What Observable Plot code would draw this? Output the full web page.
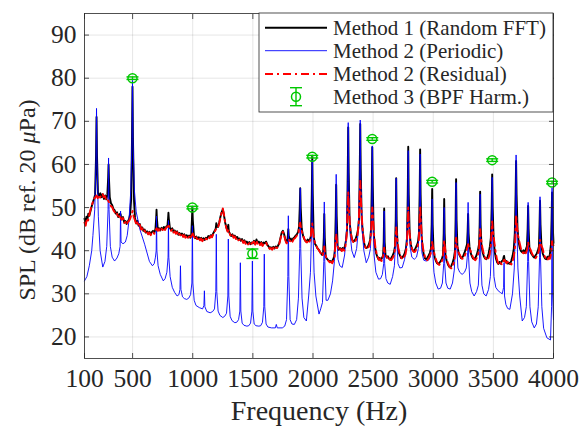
<!DOCTYPE html>
<html>
<head>
<meta charset="utf-8">
<script src="https://cdn.jsdelivr.net/npm/d3@7"></script>
<script src="https://cdn.jsdelivr.net/npm/@observablehq/plot@0.6"></script>
<style>
  html, body { margin: 0; padding: 0; background: #fff; }
  #chart { width: 580px; height: 428px; }
</style>
</head>
<body>
<div id="chart"></div>
<script>
// ---------- data ----------
const xTickValues = [100, 500, 1000, 1500, 2000, 2500, 3000, 3500, 4000];
const xTickLabels = ["100", "500", "1000", "1500", "2000", "2500", "3000", "3500", "4000"];
const yTickValues = [20, 30, 40, 50, 60, 70, 80, 90];
const yTickLabels = ["20", "30", "40", "50", "60", "70", "80", "90"];

const legendLabels = ["Method 1 (Random FFT)", "Method 2 (Periodic)", "Method 2 (Residual)", "Method 3 (BPF Harm.)"];

// Method 1 (Random FFT): [frequency Hz, SPL dB]
const method1 = [[100,47.4],[108,46.5],[116,47.9],[124,47.2],[132,48.6],[140,48.1],[150,49.2],[160,50.3],[170,51.2],[180,52.1],[188,53],[196,62],[200,71],[204,62],[212,53.4],[222,52.6],[232,53.3],[242,52.4],[252,53.1],[262,52],[272,52.8],[282,51.9],[290,53],[297,57],[300,60],[303,57],[310,52.4],[320,51],[330,50.6],[340,49.7],[350,49.4],[360,48.6],[370,48.9],[380,47.8],[390,48.4],[397,48.6],[400,48.5],[403,48],[410,47.3],[420,47.8],[430,46.6],[440,46.9],[450,46.2],[460,46.8],[470,47.3],[480,48.5],[488,52],[495,66],[499,78],[503,66],[512,51.5],[520,47.6],[530,46.3],[540,46.9],[550,45.8],[560,46.2],[570,45.1],[580,45.4],[590,44.6],[600,44.9],[610,44.2],[620,44.5],[630,43.9],[640,44.4],[650,43.8],[660,44.3],[670,44.6],[680,44.1],[690,45],[696,47.5],[699,49.5],[702,47.5],[710,44.8],[720,45.2],[730,44.7],[740,45.3],[750,44.9],[760,45.5],[770,45],[780,45.6],[790,45.8],[795,47.5],[798,48.8],[801,47.5],[810,45.3],[820,44.8],[830,45.2],[840,44.4],[850,44.7],[860,44.1],[870,44.5],[880,43.7],[890,44.1],[900,43.6],[910,44],[920,43.4],[930,43.8],[940,43.2],[950,43.6],[960,43.1],[970,43.5],[980,43],[988,43.8],[993,47],[997,50],[1001,47],[1010,43.5],[1020,42.9],[1030,43.3],[1040,42.7],[1050,43.1],[1060,42.6],[1070,43],[1080,42.4],[1090,42.9],[1100,42.5],[1110,43],[1120,42.8],[1130,43.4],[1140,43.1],[1150,43.6],[1160,43.3],[1170,44],[1180,44.5],[1190,45],[1193,45.5],[1196,46.4],[1200,45.6],[1210,45.5],[1220,46.5],[1230,47.8],[1240,48.9],[1250,49.6],[1260,48.2],[1270,46.5],[1280,45.4],[1290,44.6],[1293,45.5],[1296,46],[1300,44.5],[1310,43.9],[1320,43.4],[1330,43.8],[1340,43.2],[1350,43.5],[1360,42.9],[1370,43.2],[1380,42.6],[1390,42.8],[1400,42.3],[1410,42.7],[1420,42],[1430,42.4],[1440,41.8],[1450,42.1],[1460,41.6],[1470,42],[1480,41.5],[1490,41.9],[1500,41.7],[1510,42.3],[1520,41.6],[1530,42.6],[1540,41.8],[1550,42.1],[1560,41.5],[1570,42],[1580,41.3],[1590,41.9],[1600,41.7],[1610,42.1],[1620,41.4],[1630,41],[1640,40.6],[1650,40.8],[1660,40.4],[1670,40.9],[1680,40.5],[1690,41],[1700,40.7],[1710,41.2],[1720,41.8],[1730,43],[1740,44.2],[1750,44.6],[1760,43.8],[1770,42.6],[1780,41.9],[1788,42.6],[1791,43.5],[1795,45],[1799,43.3],[1806,42.4],[1816,42.8],[1826,42.3],[1836,42.9],[1846,43.1],[1856,43.5],[1866,43.8],[1876,44.3],[1884,45.5],[1890,50],[1894,54.5],[1898,50],[1906,45.2],[1916,43.6],[1926,42.8],[1936,42.3],[1946,42.1],[1956,42.6],[1966,42.2],[1976,42.7],[1984,43.5],[1990,53],[1994,62],[1998,53],[2006,43.2],[2016,41.6],[2026,41.2],[2036,40.6],[2046,40.3],[2056,39.8],[2066,39.4],[2076,39],[2084,39.3],[2090,43],[2094,48.5],[2098,43],[2106,38.6],[2116,38.1],[2126,37.8],[2136,37.5],[2146,37.6],[2156,37.3],[2166,37.9],[2176,38.6],[2183,40.5],[2189,48],[2193,55.3],[2197,48],[2205,41],[2215,40.2],[2225,40.6],[2235,40.1],[2245,40.6],[2255,40.2],[2265,41],[2275,42.5],[2283,45],[2289,58],[2293,68.6],[2297,58],[2305,46.5],[2315,44],[2325,42.6],[2335,42.1],[2345,42.3],[2355,42.8],[2365,43.6],[2375,45],[2383,47.5],[2389,59],[2393,69.4],[2397,59],[2405,47.5],[2415,44],[2425,41.8],[2435,40.8],[2445,40.6],[2455,40.9],[2465,41.5],[2475,42.5],[2483,45],[2489,55],[2493,64],[2497,55],[2505,44],[2515,41],[2525,39.4],[2535,38.6],[2545,38],[2555,38.3],[2565,37.8],[2575,38.4],[2583,38.9],[2588,42],[2592,49.8],[2596,42],[2603,39],[2613,38.4],[2623,38.7],[2633,38.1],[2643,38],[2653,38.4],[2663,38.9],[2673,39.6],[2682,41],[2688,47],[2692,56.8],[2696,47],[2703,41.2],[2713,39.6],[2723,38.9],[2733,38.3],[2743,38.4],[2753,38.8],[2763,39.4],[2773,40.5],[2782,43],[2788,53],[2792,64.1],[2796,53],[2804,44],[2813,41.5],[2823,40.4],[2833,40],[2843,40],[2853,40.6],[2863,41.2],[2873,42],[2881,44],[2887,53],[2891,63.5],[2895,53],[2903,43.5],[2912,40.5],[2922,39],[2932,38.2],[2942,38],[2952,38.4],[2962,38.9],[2972,39.5],[2981,40.5],[2987,46],[2991,54.3],[2995,46],[3003,40],[3012,38.5],[3022,37.6],[3032,37.1],[3042,36.9],[3052,37.2],[3062,37.6],[3072,38.1],[3081,39],[3087,44],[3091,52],[3095,44],[3102,38.8],[3112,37.6],[3122,36.8],[3132,36.3],[3142,36.1],[3152,36.6],[3162,37.3],[3172,38.3],[3181,40],[3186,47],[3190,56.6],[3194,47],[3201,41],[3211,39.5],[3221,38.8],[3231,38.3],[3241,38.4],[3251,38.9],[3261,39.6],[3271,40.5],[3281,41.5],[3286,44.5],[3290,48.5],[3294,44],[3301,41],[3311,39.5],[3321,38.7],[3331,38.2],[3341,38],[3351,38.4],[3361,39],[3371,40],[3381,41.5],[3386,46],[3390,53.7],[3394,46],[3401,41.2],[3411,39.6],[3421,38.7],[3431,38.2],[3441,38],[3451,38.5],[3461,39.4],[3471,41],[3479,43],[3486,50],[3490,57.7],[3494,50],[3502,43],[3511,39.8],[3521,38.2],[3531,37.3],[3541,36.9],[3551,37.4],[3561,37],[3571,37.6],[3580,37.8],[3585,38.5],[3589,38.8],[3593,38],[3600,37.3],[3610,37.6],[3620,37],[3630,37.2],[3640,36.9],[3650,37.8],[3660,38.8],[3670,40.5],[3678,44],[3685,53],[3689,60.8],[3693,53],[3701,45],[3710,42],[3720,40.6],[3730,39.9],[3740,39.6],[3750,40.1],[3760,39.5],[3770,40.3],[3779,41],[3785,45],[3789,50.4],[3793,45],[3800,40.5],[3810,39.6],[3820,39.1],[3830,38.7],[3840,38.4],[3850,38.9],[3860,39.3],[3870,40],[3879,41],[3884,46],[3888,51.6],[3892,46],[3900,41],[3910,39.4],[3920,38.7],[3930,38.2],[3940,38],[3950,38.6],[3960,38.2],[3970,39.2],[3979,41.5],[3984,47],[3988,53.5],[3992,47],[4000,41.8]];

// Method 2 (Periodic): [frequency Hz, SPL dB]
const method2Periodic = [[100,33],[120,34],[140,36.5],[160,40],[170,43.5],[185,49.5],[196,61],[200,73],[204,61],[215,48],[230,40],[252,36.2],[270,37.5],[285,41],[296,49.5],[300,61.5],[304,49.5],[315,41],[330,38.5],[350,37.6],[370,38.3],[385,39.3],[396,41],[400,49.2],[404,42],[420,41.6],[440,42],[455,43.5],[470,47],[485,54],[495,66],[499,79.5],[503,66],[515,54],[530,49],[560,45],[600,41.5],[640,37.5],[665,36.5],[680,37],[690,38.5],[696,40],[699,48],[702,40],[712,36.5],[730,34.5],[755,33],[770,33.5],[785,35],[795,38.5],[798,47],[801,38.5],[812,34],[830,31.5],[850,30.3],[870,29.5],[885,29.8],[894,31],[898,36.5],[902,31],[915,29.3],[930,28.9],[950,28.7],[967,29],[982,29.8],[993,32.5],[997,45.8],[1001,32.5],[1012,28.5],[1027,27.3],[1055,26.8],[1082,26.5],[1093,27.3],[1097,30.7],[1101,27],[1117,25.9],[1145,25.6],[1166,25.9],[1181,26.5],[1192,30.5],[1196,43.8],[1200,30.5],[1211,26],[1226,25],[1250,24.5],[1266,24.8],[1281,25.5],[1292,29.5],[1296,42.7],[1300,29.5],[1311,24.8],[1326,23.8],[1350,23.3],[1366,23.4],[1381,24],[1392,26],[1396,37.2],[1400,26],[1411,23.2],[1426,22.7],[1450,22.5],[1466,22.6],[1481,23.2],[1492,26],[1496,37.6],[1500,26],[1511,23],[1526,22.6],[1550,22.5],[1565,22.6],[1580,23.4],[1591,27],[1595,39.2],[1599,27],[1610,23],[1625,22.3],[1655,22.1],[1687,22.1],[1695,22.9],[1703,22.1],[1745,22.1],[1765,22.5],[1780,24],[1791,34],[1795,48.1],[1799,34],[1810,24],[1825,23],[1845,22.9],[1864,24],[1879,29],[1890,40.5],[1894,54.5],[1898,40.5],[1909,29],[1924,24.5],[1945,23.7],[1964,29.5],[1979,35],[1990,47],[1994,61],[1998,47],[2009,35],[2024,29.5],[2050,25.3],[2064,26.5],[2079,28],[2090,37.5],[2094,51.3],[2098,37.5],[2109,28.5],[2124,28.5],[2145,30],[2163,33],[2178,37.5],[2189,44],[2193,57.7],[2197,44],[2208,38],[2223,36.5],[2243,36.1],[2263,39],[2278,44],[2289,56],[2293,69.7],[2297,56],[2308,44],[2323,40],[2343,38.4],[2363,40.5],[2378,45],[2389,56.5],[2393,70.3],[2397,56.5],[2408,45],[2423,40],[2443,37.2],[2463,38.5],[2478,40.5],[2489,50.5],[2493,64.3],[2497,50.5],[2508,39],[2523,35],[2545,33.4],[2562,33.5],[2577,34.5],[2588,37],[2592,49.2],[2596,37],[2607,33.5],[2622,32.5],[2642,32.2],[2662,34],[2677,36.5],[2688,43],[2692,56.8],[2696,43],[2707,37],[2722,36],[2742,36.1],[2762,38],[2777,41],[2788,49.5],[2792,63.2],[2796,49.5],[2807,41],[2822,38.5],[2842,38],[2861,38.5],[2876,40.5],[2887,48.5],[2891,62.4],[2895,48.5],[2906,39.5],[2921,37.8],[2941,37.6],[2961,37.8],[2976,38.5],[2987,41],[2991,52],[2995,40],[3006,35],[3021,32.5],[3041,31.1],[3061,31.3],[3076,32.5],[3087,37],[3091,50],[3095,37],[3106,32.5],[3121,31.3],[3141,31.1],[3160,32.5],[3175,35.5],[3186,42],[3190,55.8],[3194,42],[3205,36],[3220,35],[3240,34.5],[3260,35],[3275,36],[3286,39.5],[3290,51.2],[3294,38.5],[3305,32.5],[3320,30.5],[3340,29.5],[3360,30.5],[3375,32],[3386,39.5],[3390,53.1],[3394,39.5],[3405,32],[3420,30],[3440,29.5],[3460,31],[3475,34],[3486,43],[3490,57],[3494,43],[3505,34],[3520,31.5],[3540,30.7],[3559,30.3],[3574,30],[3585,31.5],[3589,37.2],[3593,29.5],[3604,27.5],[3619,26.6],[3637,26.4],[3659,30],[3674,36],[3685,48],[3689,62.2],[3693,48],[3704,36],[3719,29.5],[3740,23.7],[3759,24.5],[3774,27],[3785,37.5],[3789,51.2],[3793,37.5],[3804,27],[3819,23.5],[3840,22.1],[3858,23],[3873,27],[3884,38.5],[3888,52.5],[3892,38.5],[3903,27],[3918,22],[3945,19.8],[3975,19.3],[3984,27],[3988,54.6],[3992,30],[4000,24]];

// Method 2 (Residual): [frequency Hz, SPL dB]
const method2Residual = [[100,46.5],[110,45.8],[120,47.5],[130,47],[140,48.4],[150,49.5],[160,50.5],[170,51.3],[180,52],[190,52.4],[200,52.8],[210,52.2],[220,52.9],[230,52.3],[240,53],[250,53.2],[260,52.4],[270,52.7],[280,51.8],[290,52],[300,51.4],[310,51],[320,50.3],[330,50.1],[340,49.4],[350,49],[360,48.5],[370,48.7],[380,47.6],[390,48],[400,47.6],[410,47.2],[420,47.6],[430,46.4],[440,46.7],[450,46.1],[460,46.6],[470,46.9],[480,47.4],[490,48.3],[500,49.2],[510,47.8],[520,47],[530,46.1],[540,46.6],[550,45.6],[560,46],[570,44.9],[580,45.2],[590,44.4],[600,44.7],[610,44],[620,44.3],[630,43.8],[640,44.2],[650,43.6],[660,44.1],[670,44.4],[680,43.9],[690,44.7],[700,45.2],[710,44.6],[720,45],[730,44.5],[740,45.1],[750,44.8],[760,45.3],[770,44.8],[780,45.4],[790,45.5],[800,45.8],[810,45.1],[820,44.6],[830,45],[840,44.2],[850,44.5],[860,43.9],[870,44.3],[880,43.5],[890,43.9],[900,43.4],[910,43.8],[920,43.2],[930,43.6],[940,43],[950,43.4],[960,42.9],[970,43.3],[980,42.8],[990,43.5],[1000,44],[1010,43.3],[1020,42.7],[1030,43.1],[1040,42.5],[1050,42.9],[1060,42.4],[1070,42.8],[1080,42.2],[1090,42.7],[1100,42.4],[1110,42.8],[1120,42.6],[1130,43.2],[1140,42.9],[1150,43.4],[1160,43.1],[1170,43.8],[1180,44.3],[1190,44.8],[1200,45.3],[1210,45.4],[1220,46.3],[1230,47.6],[1240,48.8],[1250,49.8],[1260,48.4],[1270,46.4],[1280,45.2],[1290,44.4],[1300,44.8],[1310,43.7],[1320,43.2],[1330,43.6],[1340,43],[1350,43.3],[1360,42.7],[1370,43],[1380,42.4],[1390,42.6],[1400,42.2],[1410,42.5],[1420,41.8],[1430,42.2],[1440,41.6],[1450,41.9],[1460,41.4],[1470,41.8],[1480,41.3],[1490,41.7],[1500,41.9],[1510,42.1],[1520,41.4],[1530,42.3],[1540,41.6],[1550,41.9],[1560,41.3],[1570,41.8],[1580,41.1],[1590,41.6],[1600,41.8],[1610,41.9],[1620,41.2],[1630,40.8],[1640,40.4],[1650,40.6],[1660,40.2],[1670,40.7],[1680,40.3],[1690,40.8],[1700,40.6],[1710,41],[1720,41.6],[1730,42.8],[1740,44],[1750,44.4],[1760,43.6],[1770,42.4],[1780,41.7],[1790,42],[1800,42.6],[1810,42.2],[1820,42.6],[1830,42.1],[1840,42.7],[1850,42.9],[1860,43.3],[1870,43.6],[1880,44.2],[1888,46],[1894,46.5],[1900,45.4],[1910,44.2],[1920,43.4],[1930,42.6],[1940,42.1],[1950,41.9],[1960,42.4],[1970,42],[1980,42.6],[1988,45.5],[1994,46.3],[2000,44.5],[2010,42.5],[2020,41.4],[2030,41],[2040,40.4],[2050,40.1],[2060,39.6],[2070,39.2],[2080,38.8],[2088,39.8],[2094,41],[2100,39.5],[2110,38.4],[2120,37.9],[2130,37.6],[2140,37.3],[2150,37.4],[2160,37.1],[2170,37.7],[2180,38.6],[2188,42.5],[2193,43.9],[2200,42],[2210,40.6],[2220,40],[2230,40.4],[2240,39.9],[2250,40.4],[2260,40],[2270,41],[2280,43.5],[2287,49],[2293,53.5],[2300,49],[2310,45],[2320,43.2],[2330,42.2],[2340,41.8],[2350,42],[2360,42.6],[2370,43.5],[2380,46],[2387,52],[2393,56.2],[2400,51],[2410,46],[2420,43],[2430,41.4],[2440,40.5],[2450,40.4],[2460,40.7],[2470,41.3],[2480,43],[2488,47.5],[2493,50],[2500,47],[2510,43],[2520,40.6],[2530,39.2],[2540,38.4],[2550,37.8],[2560,38.1],[2570,37.6],[2580,38.2],[2588,39.5],[2592,40.7],[2598,39.4],[2610,38.8],[2620,38.2],[2630,38.5],[2640,37.9],[2650,37.8],[2660,38.2],[2670,38.7],[2680,40],[2688,43.5],[2692,45.4],[2698,43.5],[2710,40.5],[2720,39.4],[2730,38.7],[2740,38.1],[2750,38.2],[2760,38.6],[2770,39.2],[2780,41],[2787,46],[2792,50],[2798,46],[2810,42],[2820,40.8],[2830,40],[2840,39.7],[2850,39.8],[2860,40.4],[2870,41],[2880,42.5],[2886,46.5],[2891,50.4],[2897,46.5],[2910,41.5],[2920,39.8],[2930,38.7],[2940,38],[2950,37.8],[2960,38.2],[2970,38.7],[2980,39.5],[2987,41],[2991,42],[2997,41],[3010,39.2],[3020,38.2],[3030,37.4],[3040,36.9],[3050,36.7],[3060,37],[3070,37.4],[3080,38.2],[3087,41],[3091,42.3],[3097,40.8],[3110,38.2],[3120,37.3],[3130,36.6],[3140,36.1],[3150,35.9],[3160,36.4],[3170,37.1],[3180,38.5],[3186,41.5],[3190,43],[3196,41.5],[3210,39.6],[3220,39.1],[3230,38.5],[3240,38.1],[3250,38.2],[3260,38.7],[3270,39.4],[3280,40.3],[3286,41],[3290,41.5],[3296,41],[3310,40],[3320,39.2],[3330,38.5],[3340,38],[3350,37.8],[3360,38.2],[3370,38.8],[3380,40],[3386,43],[3390,45],[3396,43],[3410,40.5],[3420,39.3],[3430,38.5],[3440,38],[3450,37.8],[3460,38.3],[3470,39.2],[3480,41.5],[3486,45],[3490,46.8],[3496,44.5],[3510,41.5],[3520,39.5],[3530,38],[3540,37.1],[3550,36.7],[3560,37.2],[3570,36.8],[3580,37.4],[3590,37.9],[3600,37.6],[3610,37.1],[3620,37.4],[3630,36.8],[3640,37],[3650,36.8],[3660,37.6],[3670,38.6],[3680,41],[3685,45],[3689,48.3],[3695,46],[3705,43.5],[3720,41.6],[3730,40.4],[3740,39.7],[3750,39.4],[3760,39.9],[3770,39.4],[3780,40.2],[3785,41.2],[3789,42],[3795,41],[3810,40.2],[3820,39.4],[3830,38.9],[3840,38.5],[3850,38.2],[3860,38.7],[3870,39.1],[3880,40.2],[3885,41.8],[3888,42.5],[3895,41.5],[3910,40.5],[3920,39.2],[3930,38.5],[3940,38],[3950,37.8],[3960,38.4],[3970,38.1],[3980,39.4],[3988,42.2],[4000,41.2]];

// Method 3 (BPF harmonics)
const bpfFreq  = [499, 997, 1496, 1994, 2493, 2991, 3490, 3988];
const bpfLevel = [80, 50, 39.3, 61.8, 65.9, 56, 61, 55.8];
const bpfErr   = [0.3, 0.3, 1.1, 0.3, 0.3, 0.3, 0.3, 0.3];

// ---------- derived tables ----------
const bpf = bpfFreq.map((f, i) => ({f, v: bpfLevel[i], e: bpfErr[i]}));
const bpfCaps = bpf.flatMap(d => [{f: d.f, v: d.v - d.e}, {f: d.f, v: d.v + d.e}]);

const GREEN = "#00c800";
const AXIS = "#262626";
const FONT = "Liberation Serif";
const capSymbol = {draw(ctx) { ctx.moveTo(-6, 0); ctx.lineTo(6, 0); }};

const chart = Plot.plot({
  width: 580,
  height: 428,
  marginLeft: 84,
  marginRight: 27,
  marginTop: 13,
  marginBottom: 70,
  style: {background: "#fff", color: AXIS, overflow: "visible"},
  x: {domain: [100, 4000]},
  y: {domain: [15, 95]},
  marks: [
    Plot.gridX(xTickValues, {stroke: "#000", strokeOpacity: 0.13, strokeWidth: 0.8}),
    Plot.gridY(yTickValues, {stroke: "#000", strokeOpacity: 0.13, strokeWidth: 0.8}),
    Plot.line(method1, {x: d => d[0], y: d => d[1], stroke: "#000", strokeWidth: 1.9}),
    Plot.line(method2Periodic, {x: d => d[0], y: d => d[1], stroke: "#0000ff", strokeWidth: 0.9}),
    Plot.line(method2Residual, {x: d => d[0], y: d => d[1], stroke: "#ff0000", strokeWidth: 1.9, strokeDasharray: "8,4,2,4"}),
    Plot.ruleX(bpf, {x: "f", y1: d => d.v - d.e, y2: d => d.v + d.e, stroke: GREEN, strokeWidth: 1.4}),
    Plot.dot(bpfCaps, {x: "f", y: "v", symbol: capSymbol, stroke: GREEN, strokeWidth: 1.4, r: 6}),
    Plot.dot(bpf, {x: "f", y: "v", r: 4.5, stroke: GREEN, strokeWidth: 1.5, fill: "none"}),
    Plot.frame({stroke: AXIS, strokeWidth: 0.8}),
    // inward ticks on all four sides
    Plot.axisX(xTickValues, {anchor: "bottom", tickSize: 5, dy: -5, tickFormat: () => "", label: null, stroke: AXIS, strokeWidth: 0.8}),
    Plot.axisX(xTickValues, {anchor: "top", tickSize: 5, dy: 5, tickFormat: () => "", label: null, stroke: AXIS, strokeWidth: 0.8}),
    Plot.axisY(yTickValues, {anchor: "left", tickSize: 5, dx: 5, tickFormat: () => "", label: null, stroke: AXIS, strokeWidth: 0.8}),
    Plot.axisY(yTickValues, {anchor: "right", tickSize: 5, dx: -5, tickFormat: () => "", label: null, stroke: AXIS, strokeWidth: 0.8}),
    // tick labels
    Plot.axisX(xTickValues, {anchor: "bottom", tickSize: 0, tickPadding: 10, tickFormat: (d, i) => xTickLabels[i], fontSize: 25.5, label: null, fill: AXIS}),
    Plot.axisY(yTickValues, {anchor: "left", tickSize: 0, tickPadding: 8, tickFormat: (d, i) => yTickLabels[i], fontSize: 25.5, label: null, fill: AXIS}),
    // axis titles
    Plot.text(["Frequency (Hz)"], {frameAnchor: "bottom", dy: 53, fontSize: 28, fill: AXIS, textAnchor: "middle", lineAnchor: "middle"}),
    Plot.text(["SPL (dB ref. 20 μPa)"], {frameAnchor: "left", dx: -57, dy: 14, rotate: -90, fontSize: 24, fill: AXIS, textAnchor: "middle", lineAnchor: "middle"})
  ]
});

document.getElementById("chart").appendChild(chart);

const svg = d3.select(chart);

// italic μ in the y label
svg.selectAll("text").filter(function() { return this.textContent === "SPL (dB ref. 20 μPa)"; })
  .each(function() {
    const t = d3.select(this);
    t.text(null);
    t.append("tspan").text("SPL (dB ref. 20 ");
    t.append("tspan").attr("font-style", "italic").text("μ");
    t.append("tspan").text("Pa)");
  });

// ---------- legend (drawn inside the plot's SVG) ----------
const lg = svg.append("g").attr("text-anchor", "start");
lg.append("rect").attr("x", 259).attr("y", 13).attr("width", 294).attr("height", 99)
  .attr("fill", "#fff").attr("stroke", AXIS).attr("stroke-width", 0.8);
const rowY = [27.7, 50.7, 74, 96.7];
const legendStyles = [
  {stroke: "#000", width: 1.9, dash: null},
  {stroke: "#0000ff", width: 0.9, dash: null},
  {stroke: "#ff0000", width: 1.9, dash: "8,4,2,4"}
];
legendStyles.forEach((s, i) => {
  const l = lg.append("line").attr("x1", 265).attr("x2", 327).attr("y1", rowY[i]).attr("y2", rowY[i])
    .attr("stroke", s.stroke).attr("stroke-width", s.width);
  if (s.dash) l.attr("stroke-dasharray", s.dash);
});
const gy = rowY[3];
lg.append("line").attr("x1", 296).attr("x2", 296).attr("y1", gy - 9).attr("y2", gy + 9).attr("stroke", GREEN).attr("stroke-width", 1.4);
lg.append("line").attr("x1", 290).attr("x2", 302).attr("y1", gy - 9).attr("y2", gy - 9).attr("stroke", GREEN).attr("stroke-width", 1.4);
lg.append("line").attr("x1", 290).attr("x2", 302).attr("y1", gy + 9).attr("y2", gy + 9).attr("stroke", GREEN).attr("stroke-width", 1.4);
lg.append("circle").attr("cx", 296).attr("cy", gy).attr("r", 4.5).attr("fill", "none").attr("stroke", GREEN).attr("stroke-width", 1.5);
legendLabels.forEach((t, i) => {
  lg.append("text").attr("x", 333).attr("y", rowY[i]).attr("dy", "0.35em")
    .attr("text-anchor", "start").attr("font-size", 21).attr("fill", AXIS).text(t);
});

// one serif face for every text of the chart
svg.attr("font-family", FONT).style("font-family", FONT, "important");
svg.selectAll("text, tspan").attr("font-family", FONT).style("font-family", FONT, "important");
</script>
</body>
</html>
